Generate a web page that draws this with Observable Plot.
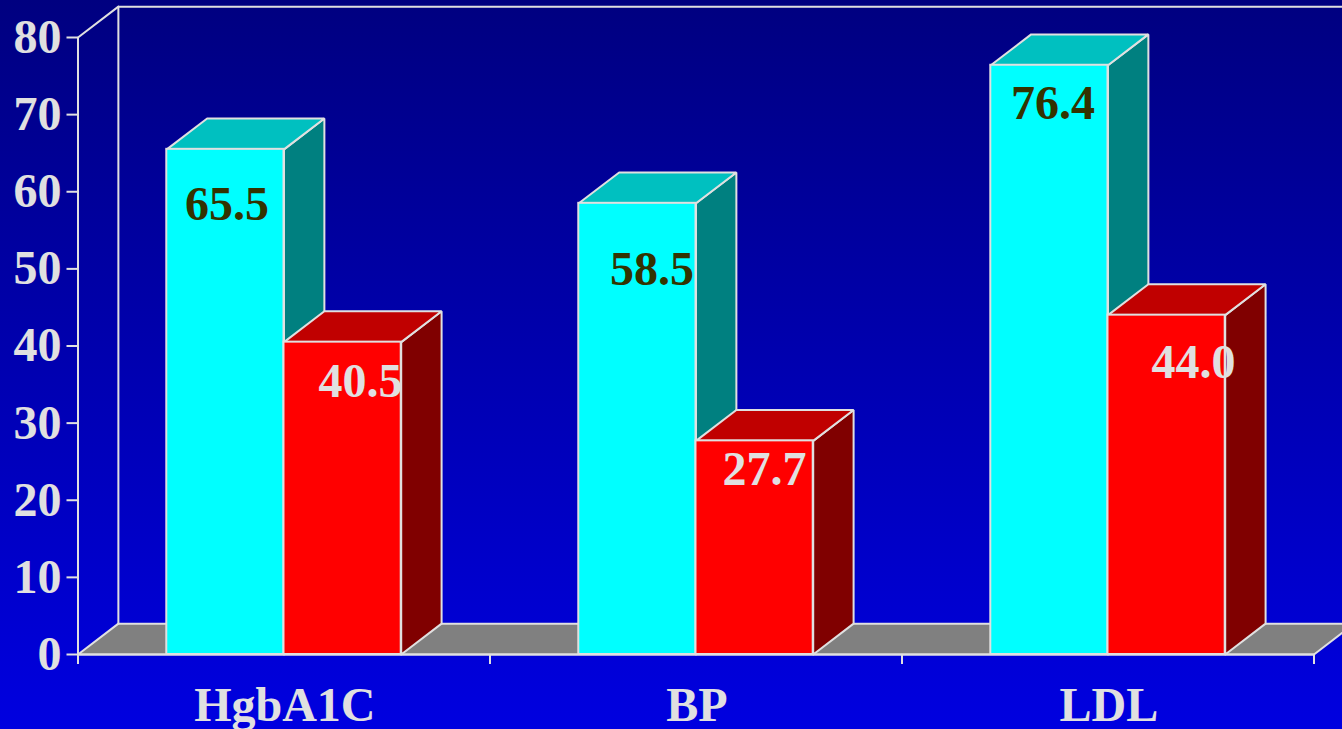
<!DOCTYPE html>
<html>
<head>
<meta charset="utf-8">
<script src="https://cdn.jsdelivr.net/npm/d3@7"></script>
<script src="https://cdn.jsdelivr.net/npm/@observablehq/plot@0.6"></script>
<style>
  html, body { margin: 0; padding: 0; overflow: hidden; background: #0000e0; }
  svg { display: block; }
</style>
</head>
<body>
<script>
// Three categories, two bars each
const categories = ["HgbA1C", "BP", "LDL"];
const cyanValues = [65.5, 58.5, 76.4];
const redValues = [40.5, 27.7, 44.0];
const yTicks = [0, 10, 20, 30, 40, 50, 60, 70, 80];

// Pixel nudges for the value labels, relative to each bar's top centre
const cyanLabelNudge = [[1.5, 70.5], [14.5, 82], [3.5, 54]];
const redLabelNudge = [[18, 54.5], [10, 44.5], [27, 63]];

// Extruded look, in scale units
const depthX = 0.098;
const depthY = 4;
const barInset = 0.2155;
const barWidth = 0.2845;

const edge = "#e0e0e0";
const edgeWidth = 2;
const serif = "'Liberation Serif', 'Times New Roman', serif";

// Closed polygon drawn as a filled line through the x and y scales
const poly = (points, fill) =>
  Plot.line([...points, points[0]], {
    x: (d) => d[0],
    y: (d) => d[1],
    fill,
    stroke: edge,
    strokeWidth: edgeWidth,
    strokeLinejoin: "miter",
    curve: "linear"
  });

const segment = (points) =>
  Plot.line(points, {
    x: (d) => d[0],
    y: (d) => d[1],
    stroke: edge,
    strokeWidth: edgeWidth,
    curve: "linear"
  });

// One box: side and top faces first, then the front
const box = (x1, x2, v, front, top, side) => [
  poly([[x2, 0], [x2 + depthX, depthY], [x2 + depthX, v + depthY], [x2, v]], side),
  poly([[x1, v], [x2, v], [x2 + depthX, v + depthY], [x1 + depthX, v + depthY]], top),
  Plot.rect([{x1, x2, y1: 0, y2: v}], {
    x1: "x1", x2: "x2", y1: "y1", y2: "y2",
    fill: front, stroke: edge, strokeWidth: edgeWidth
  })
];

const valueLabel = (x, v, nudge, fill) =>
  Plot.text([v.toFixed(1)], {
    x: () => x,
    y: () => v,
    text: (d) => d,
    dx: nudge[0],
    dy: nudge[1],
    fill,
    fontSize: 48,
    fontWeight: "bold",
    fontFamily: serif,
    textAnchor: "middle",
    lineAnchor: "bottom"
  });

const n = categories.length;
const yMax = yTicks[yTicks.length - 1];

const chart = Plot.plot({
  width: 1342,
  height: 729,
  marginLeft: 77.5,
  marginRight: 28.5,
  marginTop: 37,
  marginBottom: 75,
  style: {
    background: "linear-gradient(to bottom, #000080 0%, #0000e0 100%)",
    fontFamily: serif
  },
  x: {type: "linear", domain: [0, n]},
  y: {type: "linear", domain: [0, yMax]},
  marks: [
    // Floor and back wall
    poly([[0, 0], [n, 0], [n + depthX, depthY], [depthX, depthY]], "#808080"),
    segment([[depthX, depthY], [depthX, yMax + depthY], [n + depthX, yMax + depthY]]),
    segment([[0, yMax], [depthX, yMax + depthY]]),

    // Bars, left to right
    ...categories.flatMap((_, i) => [
      ...box(i + barInset, i + barInset + barWidth, cyanValues[i], "#00ffff", "#00c0c0", "#008080"),
      ...box(i + barInset + barWidth, i + barInset + 2 * barWidth, redValues[i], "#ff0000", "#c00000", "#800000")
    ]),

    // Axis lines
    segment([[0, 0], [0, yMax]]),
    segment([[0, 0], [n, 0]]),
    Plot.axisY({
      ticks: yTicks,
      tickSize: 11,
      tickPadding: 5.5,
      color: edge,
      strokeWidth: edgeWidth,
      fontSize: 48,
      fontWeight: "bold",
      fontFamily: serif,
      label: null
    }),
    Plot.axisX({
      ticks: d3.range(n + 1),
      tickSize: 10,
      color: edge,
      strokeWidth: edgeWidth,
      tickFormat: () => "",
      label: null
    }),
    Plot.axisX({
      ticks: categories.map((_, i) => i + 0.5),
      tickSize: 0,
      tickPadding: 32,
      dx: 0.8,
      color: edge,
      fontSize: 48,
      fontWeight: "bold",
      fontFamily: serif,
      tickFormat: (d) => categories[Math.floor(d)],
      label: null
    }),

    // Value labels sit above the boxes
    ...categories.flatMap((_, i) => [
      valueLabel(i + barInset + barWidth / 2, cyanValues[i], cyanLabelNudge[i], "#333300"),
      valueLabel(i + barInset + 1.5 * barWidth, redValues[i], redLabelNudge[i], edge)
    ])
  ]
});

document.body.appendChild(chart);
</script>
</body>
</html>
